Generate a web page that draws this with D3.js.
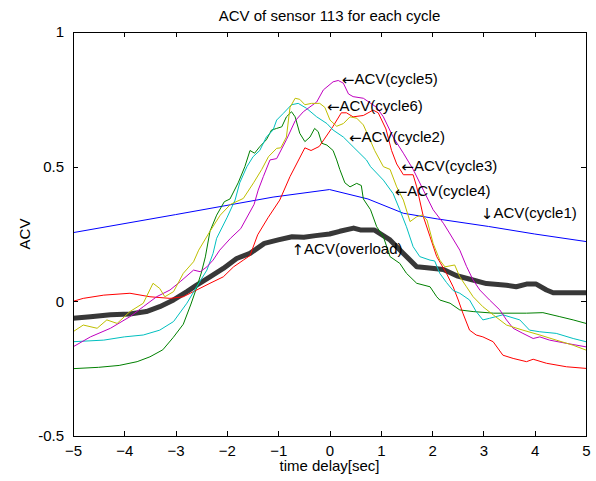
<!DOCTYPE html>
<html>
<head>
<meta charset="utf-8">
<script src="https://cdn.jsdelivr.net/npm/d3@7"></script>
<style>
  html, body { margin: 0; padding: 0; background: #fff; }
  svg { display: block; }
  text { font-family: "Liberation Sans", Arial, Helvetica, sans-serif; fill: #000; }
</style>
</head>
<body>
<svg id="chart" width="596" height="481"></svg>
<script>
// ---- data ----
const titleText = "ACV of sensor 113 for each cycle";
const xLabelText = "time delay[sec]";
const yLabelText = "ACV";
const xTicks = [-5, -4, -3, -2, -1, 0, 1, 2, 3, 4, 5];
const yTicks = [-0.5, 0, 0.5, 1];

const overload = [[-5,-0.063],[-4.66,-0.057],[-4.27,-0.05],[-3.89,-0.047],[-3.57,-0.038],[-3.31,-0.02],[-3.04,0.005],[-2.78,0.036],[-2.59,0.06],[-2.33,0.091],[-2.07,0.122],[-1.81,0.159],[-1.55,0.178],[-1.27,0.215],[-1.0,0.228],[-0.73,0.24],[-0.5,0.238],[-0.27,0.244],[0,0.25],[0.2,0.26],[0.47,0.272],[0.6,0.265],[0.87,0.265],[1.18,0.228],[1.44,0.178],[1.7,0.128],[1.9,0.125],[2.22,0.118],[2.48,0.095],[2.74,0.082],[3.06,0.066],[3.45,0.06],[3.64,0.054],[3.84,0.064],[4.03,0.064],[4.23,0.042],[4.36,0.032],[4.75,0.032],[5,0.032]];

const cycle1 = [[-5,0.255],[-3,0.322],[-1.1,0.387],[0,0.415],[0.75,0.38],[1.44,0.327],[2.1,0.306],[3.1,0.278],[4,0.25],[5,0.222]];

const cycle2 = [[-5,-0.25],[-4.5,-0.245],[-4.1,-0.238],[-3.75,-0.224],[-3.5,-0.206],[-3.25,-0.18],[-3.05,-0.135],[-2.85,-0.085],[-2.7,-0.01],[-2.6,0.045],[-2.5,0.105],[-2.42,0.165],[-2.33,0.26],[-2.2,0.32],[-2.05,0.37],[-1.94,0.38],[-1.78,0.44],[-1.65,0.5],[-1.55,0.56],[-1.46,0.55],[-1.36,0.574],[-1.23,0.6],[-1.13,0.636],[-1.03,0.642],[-0.93,0.648],[-0.84,0.685],[-0.74,0.704],[-0.67,0.685],[-0.58,0.624],[-0.48,0.593],[-0.38,0.61],[-0.29,0.642],[-0.22,0.63],[-0.15,0.587],[-0.05,0.58],[0.07,0.56],[0.14,0.525],[0.2,0.49],[0.3,0.44],[0.4,0.425],[0.53,0.438],[0.62,0.43],[0.66,0.38],[0.8,0.34],[0.92,0.277],[1.05,0.24],[1.18,0.166],[1.37,0.141],[1.5,0.104],[1.7,0.067],[1.96,0.054],[2.09,0.017],[2.15,0.005],[2.35,-0.007],[2.54,-0.032],[2.8,-0.038],[3.2,-0.044],[3.84,-0.044],[4.16,-0.042],[4.49,-0.057],[4.75,-0.069],[5,-0.082]];

const cycle3 = [[-5,0],[-4.8,0.011],[-4.4,0.023],[-3.89,0.03],[-3.5,0.017],[-3.11,0.011],[-2.85,0.017],[-2.59,0.042],[-2.33,0.067],[-2.07,0.091],[-1.87,0.128],[-1.68,0.153],[-1.55,0.17],[-1.4,0.247],[-1.2,0.31],[-0.97,0.376],[-0.77,0.463],[-0.48,0.57],[-0.36,0.56],[-0.2,0.575],[0.07,0.65],[0.23,0.7],[0.33,0.7],[0.46,0.685],[0.66,0.69],[0.85,0.71],[0.95,0.7],[1.1,0.64],[1.21,0.56],[1.31,0.51],[1.44,0.47],[1.63,0.47],[1.7,0.425],[1.83,0.314],[1.96,0.24],[2.09,0.166],[2.28,0.104],[2.41,0.054],[2.51,0.005],[2.6,-0.044],[2.73,-0.107],[2.86,-0.125],[2.99,-0.132],[3.19,-0.15],[3.38,-0.2],[3.58,-0.212],[3.84,-0.224],[3.97,-0.215],[4.23,-0.23],[4.62,-0.243],[5,-0.249]];

const cycle4 = [[-5,-0.15],[-4.4,-0.144],[-4.0,-0.132],[-3.63,-0.125],[-3.31,-0.107],[-3.04,-0.075],[-2.78,-0.007],[-2.59,0.054],[-2.39,0.116],[-2.27,0.178],[-2.2,0.234],[-2.0,0.31],[-1.84,0.376],[-1.75,0.44],[-1.61,0.5],[-1.49,0.537],[-1.36,0.56],[-1.23,0.61],[-1.1,0.636],[-1.03,0.673],[-0.9,0.698],[-0.74,0.73],[-0.61,0.735],[-0.45,0.717],[-0.25,0.685],[-0.05,0.66],[0.07,0.636],[0.27,0.61],[0.46,0.574],[0.72,0.525],[0.8,0.5],[1.05,0.45],[1.24,0.4],[1.37,0.34],[1.5,0.277],[1.63,0.203],[1.76,0.166],[1.96,0.153],[2.05,0.15],[2.15,0.104],[2.28,0.07],[2.41,0.04],[2.54,0.03],[2.73,0.005],[2.86,-0.038],[2.99,-0.069],[3.12,-0.063],[3.38,-0.05],[3.71,-0.069],[3.9,-0.107],[4.1,-0.113],[4.42,-0.119],[4.75,-0.138],[5,-0.15]];

const cycle5 = [[-5,-0.169],[-4.66,-0.132],[-4.27,-0.1],[-3.89,-0.057],[-3.63,-0.02],[-3.37,0.017],[-3.11,0.042],[-2.91,0.073],[-2.65,0.116],[-2.52,0.11],[-2.39,0.128],[-2.27,0.153],[-2.14,0.19],[-1.93,0.234],[-1.73,0.27],[-1.47,0.36],[-1.39,0.413],[-1.29,0.463],[-1.16,0.525],[-1.03,0.53],[-0.84,0.6],[-0.67,0.67],[-0.51,0.704],[-0.25,0.74],[-0.12,0.785],[0.07,0.815],[0.17,0.82],[0.27,0.81],[0.37,0.77],[0.46,0.76],[0.66,0.754],[0.92,0.72],[1.05,0.685],[1.24,0.61],[1.44,0.55],[1.63,0.49],[1.83,0.413],[2.02,0.34],[2.22,0.29],[2.35,0.25],[2.54,0.19],[2.67,0.13],[2.8,0.079],[2.93,0.042],[3.12,0.005],[3.32,-0.032],[3.45,-0.069],[3.58,-0.1],[3.77,-0.119],[3.97,-0.138],[4.1,-0.132],[4.29,-0.144],[4.62,-0.156],[5,-0.169]];

const cycle6 = [[-5,-0.113],[-4.8,-0.088],[-4.53,-0.1],[-4.34,-0.069],[-4.14,-0.082],[-3.89,-0.038],[-3.63,-0.007],[-3.44,0.067],[-3.31,0.048],[-3.21,0.017],[-3.04,0.036],[-2.85,0.104],[-2.65,0.147],[-2.55,0.19],[-2.33,0.26],[-2.13,0.32],[-1.93,0.36],[-1.68,0.382],[-1.48,0.44],[-1.32,0.49],[-1.19,0.537],[-1.03,0.568],[-0.95,0.57],[-0.84,0.61],[-0.77,0.72],[-0.67,0.754],[-0.58,0.75],[-0.48,0.73],[-0.35,0.735],[-0.19,0.735],[-0.09,0.72],[0.01,0.673],[0.14,0.65],[0.27,0.66],[0.4,0.685],[0.53,0.68],[0.66,0.655],[0.79,0.6],[0.88,0.56],[1.05,0.5],[1.18,0.49],[1.31,0.425],[1.44,0.376],[1.57,0.296],[1.7,0.314],[1.8,0.32],[1.9,0.302],[2.02,0.215],[2.15,0.153],[2.25,0.128],[2.44,0.135],[2.54,0.091],[2.67,0.054],[2.8,0.017],[2.99,-0.02],[3.19,-0.05],[3.45,-0.088],[3.77,-0.107],[4.1,-0.125],[4.42,-0.144],[4.75,-0.163],[5,-0.181]];

const seriesNames = ["overload", "cycle1", "cycle2", "cycle3", "cycle4", "cycle5", "cycle6"];
const seriesData = [overload, cycle1, cycle2, cycle3, cycle4, cycle5, cycle6];

// annotation labels
const labelArrows = ["\u2190", "\u2190", "\u2190", "\u2190", "\u2190", "\u2193", "\u2191"];
const labelTexts = ["ACV(cycle5)", "ACV(cycle6)", "ACV(cycle2)", "ACV(cycle3)", "ACV(cycle4)", "ACV(cycle1)", "ACV(overload)"];
const labelT = [0.24, -0.05, 0.38, 1.40, 1.27, 2.95, -0.74];
const labelV = [0.82, 0.72, 0.605, 0.50, 0.405, 0.325, 0.19];

// ---- styles ----
const colors = {overload: "#383838", cycle1: "#0000ff", cycle2: "#008000", cycle3: "#ff0000",
                cycle4: "#00bfbf", cycle5: "#bf00bf", cycle6: "#bfbf00"};
const widths = {overload: 5};

const svg = d3.select("#chart");
const pLeft = 73, pRight = 586, pTop = 32, pBottom = 436;
const x = d3.scaleLinear().domain([-5, 5]).range([pLeft, pRight]);
const y = d3.scaleLinear().domain([-0.5, 1]).range([pBottom, pTop]);

const fontSize = 15;

svg.append("rect").attr("x", 0).attr("y", 0).attr("width", 596).attr("height", 481).attr("fill", "#fff");

const clipId = "plotclip";
svg.append("clipPath").attr("id", clipId).append("rect")
  .attr("x", pLeft).attr("y", pTop).attr("width", pRight - pLeft).attr("height", pBottom - pTop);

const line = d3.line().x(d => x(d[0])).y(d => y(d[1]));
const g = svg.append("g").attr("clip-path", `url(#${clipId})`);
seriesNames.forEach((name, i) => {
  g.append("path")
    .datum(seriesData[i])
    .attr("d", line)
    .attr("fill", "none")
    .attr("stroke", colors[name])
    .attr("stroke-width", widths[name] || 1)
    .attr("stroke-linejoin", "round");
});

// axes (MATLAB style box with inward ticks)
const tickLen = 5;
const axBottom = d3.axisBottom(x).tickValues(xTicks).tickSizeInner(-tickLen).tickSizeOuter(0).tickPadding(9).tickFormat(d3.format("d"));
const axTop = d3.axisTop(x).tickValues(xTicks).tickSizeInner(-tickLen).tickSizeOuter(0).tickFormat("");
const axLeft = d3.axisLeft(y).tickValues(yTicks).tickSizeInner(-tickLen).tickSizeOuter(0).tickPadding(9).tickFormat(d => String(d));
const axRight = d3.axisRight(y).tickValues(yTicks).tickSizeInner(-tickLen).tickSizeOuter(0).tickFormat("");

function styleAxis(sel) {
  sel.selectAll("path.domain").attr("stroke", "#000").attr("stroke-width", 1).attr("shape-rendering", "crispEdges");
  sel.selectAll("line").attr("stroke", "#000").attr("shape-rendering", "crispEdges");
  sel.selectAll("text").attr("font-size", fontSize).attr("font-family", "Liberation Sans, Arial, sans-serif").attr("fill", "#000");
}
svg.append("g").attr("transform", `translate(0,${pBottom})`).call(axBottom).call(styleAxis);
svg.append("g").attr("transform", `translate(0,${pTop})`).call(axTop).call(styleAxis);
svg.append("g").attr("transform", `translate(${pLeft},0)`).call(axLeft).call(styleAxis);
svg.append("g").attr("transform", `translate(${pRight},0)`).call(axRight).call(styleAxis);

// annotations (arrow glyph in a font with a wide arrow)
labelTexts.forEach((t, i) => {
  const txt = svg.append("text")
    .attr("x", x(labelT[i]))
    .attr("y", y(labelV[i]))
    .attr("dominant-baseline", "middle")
    .attr("font-size", fontSize);
  txt.append("tspan").attr("font-family", "DejaVu Sans").text(labelArrows[i]);
  txt.append("tspan").text(t);
});

// title and axis labels
svg.append("text").attr("x", (pLeft + pRight) / 2).attr("y", 21).attr("text-anchor", "middle")
  .attr("font-size", fontSize).text(titleText);
svg.append("text").attr("x", (pLeft + pRight) / 2).attr("y", 471).attr("text-anchor", "middle")
  .attr("font-size", fontSize).text(xLabelText);
svg.append("text").attr("transform", `translate(30,${(pTop + pBottom) / 2}) rotate(-90)`).attr("text-anchor", "middle")
  .attr("font-size", fontSize).text(yLabelText);
</script>
</body>
</html>
